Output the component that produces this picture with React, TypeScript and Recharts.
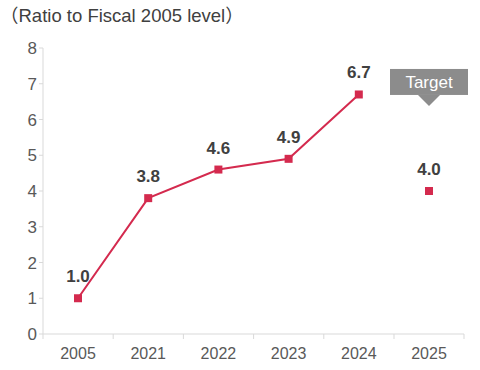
import { LineChart, Line, XAxis, YAxis, ReferenceDot, LabelList } from 'recharts';

const years = ['2005', '2021', '2022', '2023', '2024', '2025'];
const actual = [1.0, 3.8, 4.6, 4.9, 6.7, null];
const target = [null, null, null, null, null, 4.0];
const yTicks = [0, 1, 2, 3, 4, 5, 6, 7, 8];

const data = years.map((year, i) => ({ year, actual: actual[i], target: target[i] }));

const RED = '#d42a4e';
const FONT = '"Liberation Sans", Arial, sans-serif';

const Square = (props: any) => {
    const { cx, cy, value } = props;
    if (value == null || cx == null || cy == null) return null;
    return <rect x={cx - 4} y={cy - 4} width={8} height={8} fill={RED} />;
};

const XTick = (props: any) => {
    const { x, y, payload, index, visibleTicksCount } = props;
    const half = 35;
    return (
        <g>
            <line x1={x - half} y1={y - 8} x2={x - half} y2={y - 3} stroke="#d9d9d9" />
            {index === visibleTicksCount - 1 && (
                <line x1={x + half} y1={y - 8} x2={x + half} y2={y - 3} stroke="#d9d9d9" />
            )}
            <text x={x} y={y + 17} textAnchor="middle" fill="#595959" fontSize={16} fontFamily={FONT}>
                {payload.value}
            </text>
        </g>
    );
};

const TargetBox = (props: any) => {
    const { cx, cy } = props;
    return (
        <g>
            <rect x={cx - 39} y={cy - 13} width={78} height={26} fill="#8c8c8c" />
            <polygon points={`${cx - 11},${cy + 13} ${cx + 11},${cy + 13} ${cx},${cy + 24}`} fill="#8c8c8c" />
            <text x={cx} y={cy + 6} textAnchor="middle" fill="#ffffff" fontSize={17} fontFamily={FONT}>
                Target
            </text>
        </g>
    );
};

const renderLabel = (props: any) => {
    const { x, y, value } = props;
    if (value == null) return null;
    return (
        <text x={x} y={y - 16} textAnchor="middle" fill="#404040" fontSize={17} fontWeight="bold" fontFamily={FONT}>
            {Number(value).toFixed(1)}
        </text>
    );
};

export default function App() {
    return (
        <div style={{ position: 'absolute', left: 0, top: 0, width: 480, height: 370, background: '#fff' }}>
            <div
                style={{
                    position: 'absolute',
                    left: 0,
                    top: 4,
                    fontFamily: '"Liberation Sans", "Noto Sans CJK JP", sans-serif',
                    fontSize: 18.5,
                    lineHeight: '24px',
                    color: '#404040',
                }}
            >
                （Ratio to Fiscal 2005 level）
            </div>
            <LineChart width={480} height={370} data={data} margin={{ top: 48, right: 16, bottom: 6, left: 0 }}>
                <XAxis
                    dataKey="year"
                    axisLine={{ stroke: '#d9d9d9' }}
                    tickLine={false}
                    tick={<XTick />}
                    interval={0}
                    padding={{ left: 35, right: 35 }}
                />
                <YAxis
                    domain={[0, 8]}
                    ticks={yTicks}
                    width={43}
                    axisLine={{ stroke: '#d9d9d9' }}
                    tickLine={{ stroke: '#d9d9d9' }}
                    tickSize={4}
                    tick={{ fill: '#595959', fontSize: 17, fontFamily: FONT }}
                    interval={0}
                />
                <Line
                    dataKey="actual"
                    stroke={RED}
                    strokeWidth={2}
                    dot={<Square />}
                    activeDot={false}
                    isAnimationActive={false}
                >
                    <LabelList dataKey="actual" content={renderLabel} />
                </Line>
                <Line
                    dataKey="target"
                    stroke="none"
                    dot={<Square />}
                    activeDot={false}
                    isAnimationActive={false}
                >
                    <LabelList dataKey="target" content={renderLabel} />
                </Line>
                <ReferenceDot x="2025" y={7.05} shape={<TargetBox />} ifOverflow="visible" />
            </LineChart>
        </div>
    );
}
